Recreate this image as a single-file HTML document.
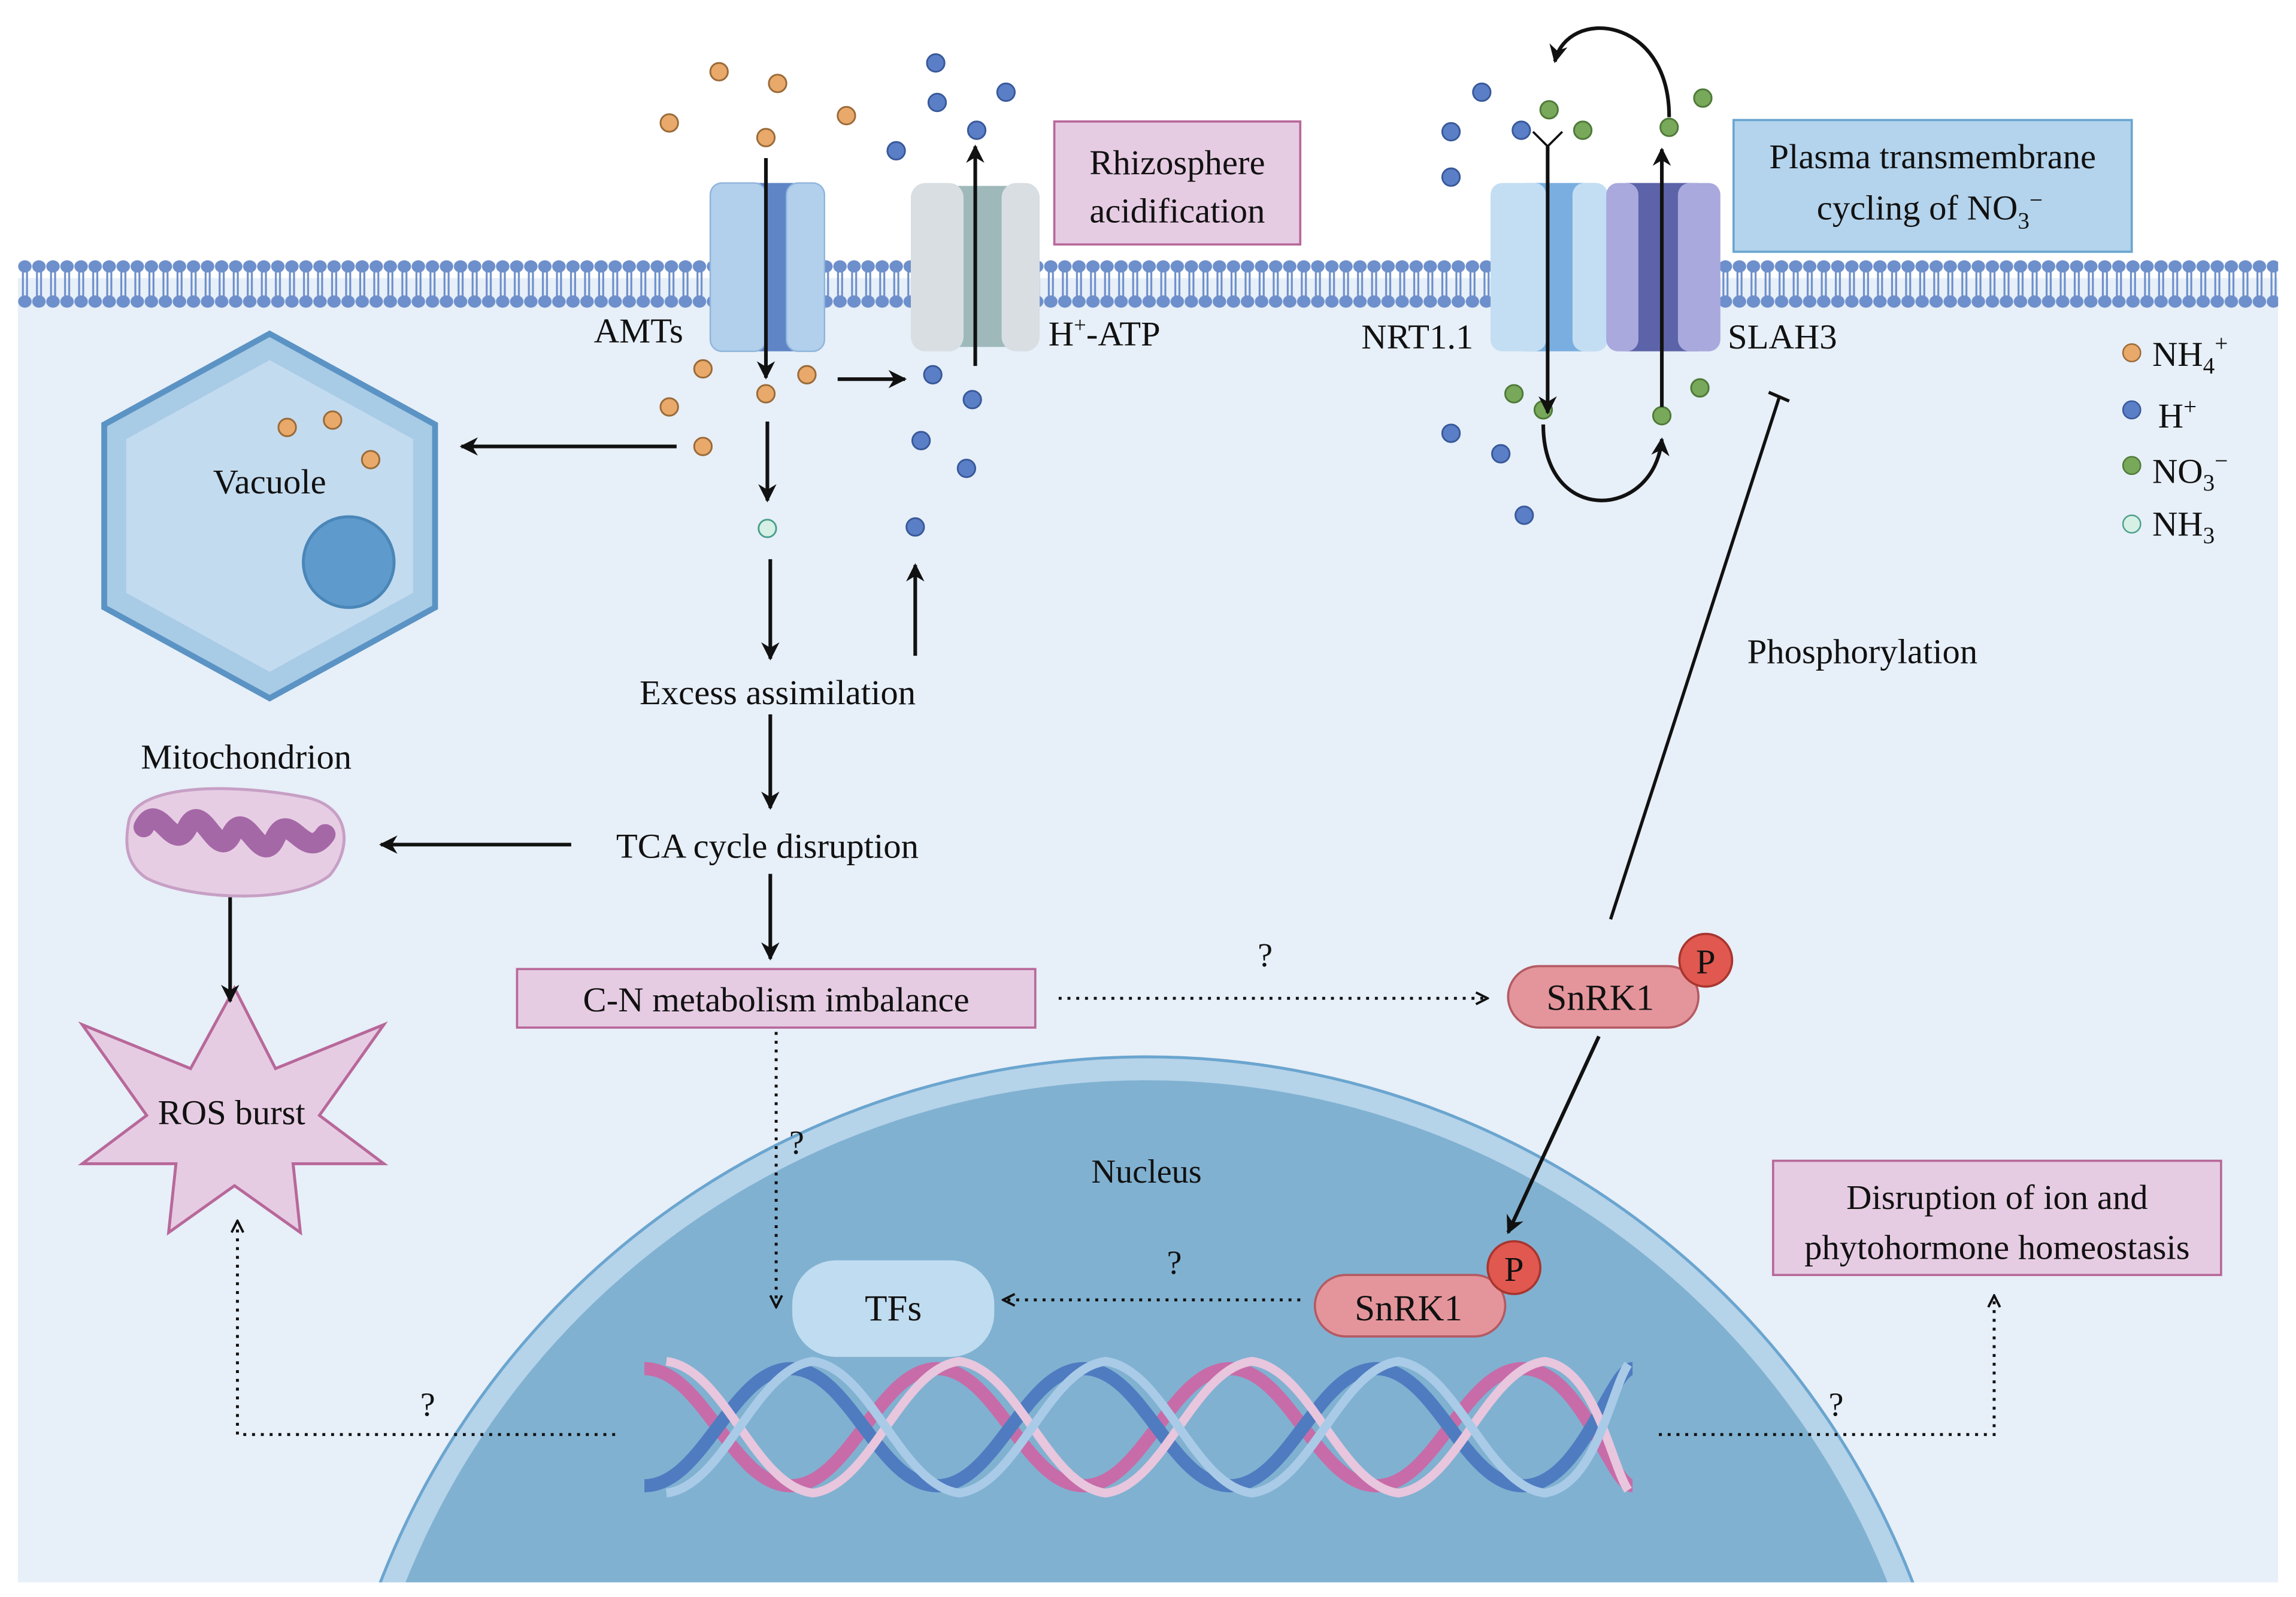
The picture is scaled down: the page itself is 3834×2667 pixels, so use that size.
<!DOCTYPE html>
<html><head><meta charset="utf-8"><style>
html,body{margin:0;padding:0;background:#fff;overflow:hidden;width:3834px;height:2667px;}
svg{display:block;}
text{font-family:"Liberation Serif",serif;fill:#111;}
</style></head><body>
<svg width="3834" height="2667" viewBox="0 0 1568 1091" xmlns="http://www.w3.org/2000/svg">
<defs>
<marker id="ah" viewBox="0 0 10 10" refX="9" refY="5" markerWidth="5" markerHeight="5" orient="auto-start-reverse"><path d="M0,0 L10,5 L0,10 L3,5 z" fill="#111"/></marker>
<marker id="oh" viewBox="0 0 10 10" refX="9" refY="5" markerWidth="5" markerHeight="5" orient="auto"><path d="M1,1 L9,5 L1,9" fill="none" stroke="#111" stroke-width="1.6"/></marker>
<pattern id="lip" x="12" y="176" width="9.6" height="38" patternUnits="userSpaceOnUse">
<ellipse cx="4.8" cy="6" rx="4.6" ry="4.2" fill="#6d8fcb"/>
<ellipse cx="4.8" cy="30" rx="4.6" ry="4.2" fill="#6d8fcb"/>
<rect x="2.8" y="9" width="1.3" height="18" fill="#6d8fcb"/>
<rect x="5.6" y="9" width="1.3" height="18" fill="#6d8fcb"/>
</pattern>
</defs>
<rect width="1568" height="1091" fill="#fff"/>
<rect x="12" y="190" width="1544" height="891" fill="#e7eff8"/>
<rect x="12" y="176" width="1544" height="38" fill="url(#lip)"/>
<!-- nucleus -->
<circle cx="783" cy="1283" r="561" fill="#b5d3e9" stroke="#6aa5cf" stroke-width="2"/>
<circle cx="783" cy="1283" r="545" fill="#80b1d1"/>
<rect x="0" y="1081" width="1568" height="10" fill="#fff"/>
<!-- DNA -->
<g fill="none" stroke-width="9">
<path d="M440 935 C480 935,500 1015,540 1015 C580 1015,600 935,640 935 C680 935,700 1015,740 1015 C780 1015,800 935,840 935 C880 935,900 1015,940 1015 C980 1015,1000 935,1040 935 C1080 935,1100 1015,1115 1015" stroke="#c76ca8"/>
<path d="M440 1015 C480 1015,500 935,540 935 C580 935,600 1015,640 1015 C680 1015,700 935,740 935 C780 935,800 1015,840 1015 C880 1015,900 935,940 935 C980 935,1000 1015,1040 1015 C1080 1015,1100 935,1115 935" stroke="#4f7cc0"/>
<path d="M455 930 C495 935,515 1015,555 1020 C595 1015,615 935,655 930 C695 935,715 1015,755 1020 C795 1015,815 935,855 930 C895 935,915 1015,955 1020 C995 1015,1015 935,1055 930 C1090 935,1100 1000,1112 1018" stroke="#e8c6dd" stroke-width="6"/>
<path d="M455 1020 C495 1015,515 935,555 930 C595 935,615 1015,655 1020 C695 1015,715 935,755 930 C795 935,815 1015,855 1020 C895 1015,915 935,955 930 C995 935,1015 1015,1055 1020 C1090 1015,1100 950,1112 932" stroke="#a9cbe8" stroke-width="6"/>
</g>
<text x="783" y="808" font-size="23" text-anchor="middle">Nucleus</text>
<!-- Vacuole -->
<polygon points="184,228 297,290 297,415 184,477 71,415 71,290" fill="#a8cbe6" stroke="#5b93c4" stroke-width="4"/>
<polygon points="184,246 282,300 282,405 184,459 86,405 86,300" fill="#c3dbef"/>
<circle cx="238" cy="384" r="31" fill="#5e9acb" stroke="#4a86b8" stroke-width="2"/>
<text x="184" y="337" font-size="24" text-anchor="middle">Vacuole</text>
<!-- Mitochondrion -->
<text x="168" y="525" font-size="24" text-anchor="middle">Mitochondrion</text>
<path d="M88 560 C95 535,160 535,210 545 C240 552,240 580,225 598 C200 618,130 615,100 600 C85 590,85 575,88 560 z" fill="#e6cde3" stroke="#c79fc5" stroke-width="2"/>
<path d="M98 565 C108 545,118 585,128 565 C138 545,148 590,158 570 C168 550,178 595,188 572 C198 552,208 590,222 570" fill="none" stroke="#a568a7" stroke-width="14" stroke-linecap="round"/>
<!-- ROS burst -->
<polygon points="160,675 188,730 262,700 218,762 262,795 200,795 205,842 160,810 115,842 120,795 56,795 100,762 56,700 130,730" fill="#e6cce3" stroke="#b8689a" stroke-width="2"/>
<text x="158" y="768" font-size="24" text-anchor="middle">ROS burst</text>
<!-- transporters -->
<g>
<rect x="500" y="125" width="50" height="115" fill="#5f85c6"/>
<rect x="485" y="125" width="38" height="115" rx="8" fill="#b2d0ec" stroke="#8fb4dc"/>
<rect x="537" y="125" width="26" height="115" rx="8" fill="#b2d0ec" stroke="#8fb4dc"/>
<rect x="640" y="127" width="55" height="110" fill="#9fb9bb"/>
<rect x="622" y="125" width="36" height="115" rx="10" fill="#d8dee2"/>
<rect x="684" y="125" width="26" height="115" rx="10" fill="#d8dee2"/>
<rect x="1040" y="125" width="50" height="115" fill="#7aaee0"/>
<rect x="1018" y="125" width="38" height="115" rx="8" fill="#c3def3"/>
<rect x="1074" y="125" width="24" height="115" rx="8" fill="#c3def3"/>
<rect x="1110" y="125" width="50" height="115" fill="#5c63a8"/>
<rect x="1097" y="125" width="22" height="115" rx="8" fill="#a9a9de"/>
<rect x="1146" y="125" width="29" height="115" rx="8" fill="#a9a9de"/>
</g>
<!-- labels -->
<text x="436" y="234" font-size="24" text-anchor="middle">AMTs</text>
<text x="716" y="236" font-size="24">H<tspan dy="-9" font-size="15">+</tspan><tspan dy="9">-ATP</tspan></text>
<text x="968" y="238" font-size="24" text-anchor="middle">NRT1.1</text>
<text x="1180" y="238" font-size="24">SLAH3</text>
<rect x="720" y="83" width="168" height="84" fill="#e6cce3" stroke="#b8689a" stroke-width="1.5"/>
<text x="804" y="119" font-size="24" text-anchor="middle">Rhizosphere</text>
<text x="804" y="152" font-size="24" text-anchor="middle">acidification</text>
<rect x="1184" y="82" width="272" height="90" fill="#b4d3ec" stroke="#6aa5cf" stroke-width="1.5"/>
<text x="1320" y="115" font-size="24" text-anchor="middle">Plasma transmembrane</text>
<text x="1318" y="150" font-size="24" text-anchor="middle">cycling of NO<tspan dy="6" font-size="16">3</tspan><tspan dy="-14" font-size="16">−</tspan></text>
<!-- legend -->
<circle cx="1456" cy="241" r="6" fill="#e8a96a" stroke="#9a6a38"/>
<text x="1470" y="250" font-size="24">NH<tspan dy="5" font-size="16">4</tspan><tspan dy="-15" font-size="16">+</tspan></text>
<circle cx="1456" cy="280" r="6" fill="#5b7fc7" stroke="#38599a"/>
<text x="1474" y="292" font-size="24">H<tspan dy="-9" font-size="16">+</tspan></text>
<circle cx="1456" cy="318" r="6" fill="#78a85a" stroke="#4f7a38"/>
<text x="1470" y="330" font-size="24">NO<tspan dy="5" font-size="16">3</tspan><tspan dy="-15" font-size="16">−</tspan></text>
<circle cx="1456" cy="358" r="6" fill="#d6f0e6" stroke="#4aa08a"/>
<text x="1470" y="366" font-size="24">NH<tspan dy="5" font-size="16">3</tspan></text>
<!-- particles -->
<g fill="#e8a96a" stroke="#9a6a38" stroke-width="1.2">
<circle cx="491" cy="49" r="6"/><circle cx="531" cy="57" r="6"/><circle cx="457" cy="84" r="6"/><circle cx="578" cy="79" r="6"/><circle cx="523" cy="94" r="6"/>
<circle cx="480" cy="252" r="6"/><circle cx="551" cy="256" r="6"/><circle cx="523" cy="269" r="6"/><circle cx="457" cy="278" r="6"/><circle cx="480" cy="305" r="6"/>
<circle cx="196" cy="292" r="6"/><circle cx="227" cy="287" r="6"/><circle cx="253" cy="314" r="6"/>
</g>
<circle cx="524" cy="361" r="6" fill="#d6f0e6" stroke="#4aa08a" stroke-width="1.2"/>
<g fill="#5b7fc7" stroke="#38599a" stroke-width="1.2">
<circle cx="639" cy="43" r="6"/><circle cx="640" cy="70" r="6"/><circle cx="687" cy="63" r="6"/><circle cx="667" cy="89" r="6"/><circle cx="612" cy="103" r="6"/>
<circle cx="637" cy="256" r="6"/><circle cx="664" cy="273" r="6"/><circle cx="629" cy="301" r="6"/><circle cx="660" cy="320" r="6"/><circle cx="625" cy="360" r="6"/>
<circle cx="1012" cy="63" r="6"/><circle cx="991" cy="90" r="6"/><circle cx="991" cy="121" r="6"/><circle cx="1039" cy="89" r="6"/>
<circle cx="991" cy="296" r="6"/><circle cx="1025" cy="310" r="6"/><circle cx="1041" cy="352" r="6"/>
</g>
<g fill="#78a85a" stroke="#4f7a38" stroke-width="1.2">
<circle cx="1058" cy="75" r="6"/><circle cx="1081" cy="89" r="6"/><circle cx="1140" cy="87" r="6"/><circle cx="1163" cy="67" r="6"/>
<circle cx="1034" cy="269" r="6"/><circle cx="1054" cy="280" r="6"/><circle cx="1135" cy="284" r="6"/><circle cx="1161" cy="265" r="6"/>
</g>
<!-- arrows -->
<g stroke="#111" stroke-width="2.5" fill="none" marker-end="url(#ah)">
<path d="M523 108 V258"/>
<path d="M666 250 V100"/>
<path d="M572 259 H618"/>
<path d="M524 288 V342"/>
<path d="M462 305 H315"/>
<path d="M526 382 V450"/>
<path d="M625 448 V386"/>
<path d="M526 488 V552"/>
<path d="M390 577 H260"/>
<path d="M526 597 V655"/>
<path d="M157 613 V684"/>
<path d="M1057 100 V282"/>
<path d="M1135 278 V102"/>
<path d="M1140 80 C1140 10,1070 5,1062 42"/>
<path d="M1054 290 C1054 360,1130 355,1135 300"/>
<path d="M1092 708 L1030 842"/>
</g>
<path d="M1057 100 L1047 90 M1057 100 L1067 90" stroke="#111" stroke-width="1.5" fill="none"/>
<path d="M1100 628 L1215 272 M1208 268 L1222 274" stroke="#111" stroke-width="2.2" fill="none"/>
<text x="1272" y="453" font-size="24" text-anchor="middle">Phosphorylation</text>
<!-- dotted -->
<g stroke="#111" stroke-width="2" stroke-dasharray="2 4" fill="none" marker-end="url(#oh)">
<path d="M723 682 H1016"/>
<path d="M530 705 V893"/>
<path d="M888 888 H685"/>
<path d="M420 980 H162 V834"/>
<path d="M1133 980 H1362 V885"/>
</g>
<text x="864" y="660" font-size="23" text-anchor="middle">?</text>
<text x="544" y="788" font-size="23" text-anchor="middle">?</text>
<text x="802" y="870" font-size="23" text-anchor="middle">?</text>
<text x="292" y="967" font-size="23" text-anchor="middle">?</text>
<text x="1254" y="967" font-size="23" text-anchor="middle">?</text>
<!-- boxes -->
<text x="531" y="481" font-size="24" text-anchor="middle">Excess assimilation</text>
<text x="524" y="586" font-size="24" text-anchor="middle">TCA cycle disruption</text>
<rect x="353" y="662" width="354" height="40" fill="#e6cce3" stroke="#b8689a" stroke-width="1.5"/>
<text x="530" y="691" font-size="24" text-anchor="middle">C-N metabolism imbalance</text>
<rect x="1211" y="793" width="306" height="78" fill="#e6cce3" stroke="#b8689a" stroke-width="1.5"/>
<text x="1364" y="826" font-size="24" text-anchor="middle">Disruption of ion and</text>
<text x="1364" y="860" font-size="24" text-anchor="middle">phytohormone homeostasis</text>
<rect x="1030" y="660" width="130" height="42" rx="21" fill="#e4959b" stroke="#b55a63" stroke-width="1.5"/>
<text x="1093" y="690" font-size="25" text-anchor="middle" font-family="Liberation Sans">SnRK1</text>
<circle cx="1165" cy="656" r="18" fill="#e0584f" stroke="#a8352f" stroke-width="1.5"/>
<text x="1165" y="665" font-size="24" text-anchor="middle" font-family="Liberation Sans">P</text>
<rect x="898" y="871" width="130" height="42" rx="21" fill="#e4959b" stroke="#b55a63" stroke-width="1.5"/>
<text x="962" y="902" font-size="25" text-anchor="middle" font-family="Liberation Sans">SnRK1</text>
<circle cx="1034" cy="866" r="18" fill="#e0584f" stroke="#a8352f" stroke-width="1.5"/>
<text x="1034" y="875" font-size="24" text-anchor="middle" font-family="Liberation Sans">P</text>
<rect x="541" y="861" width="138" height="66" rx="30" fill="#c0dcf0"/>
<text x="610" y="902" font-size="25" text-anchor="middle" font-family="Liberation Sans">TFs</text>
</svg>
</body></html>
